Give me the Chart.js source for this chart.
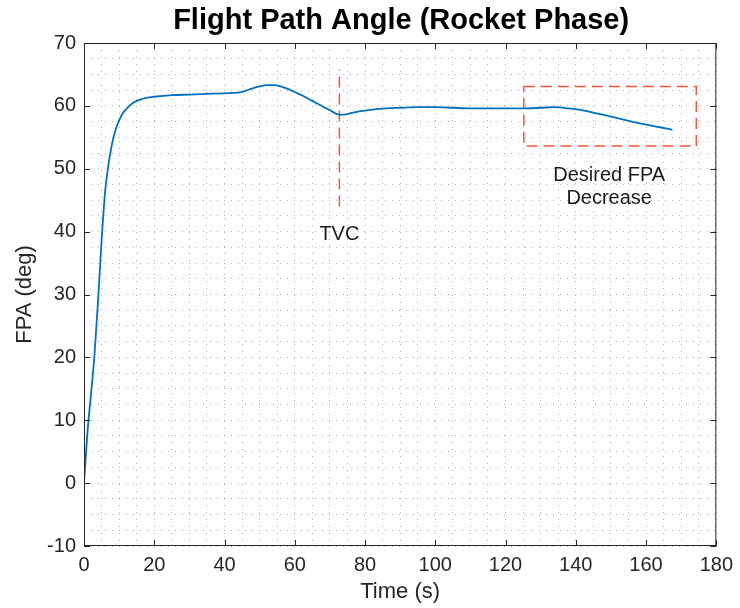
<!DOCTYPE html>
<html>
<head>
<meta charset="utf-8">
<script src="https://cdn.jsdelivr.net/npm/chart.js@4"></script>
<style>
  body { margin: 0; background: #fff; }
  #wrap { width: 740px; height: 608px; }
</style>
</head>
<body>
<div id="wrap"><canvas id="fpaChart" width="740" height="608"></canvas></div>
<script>
// data
const timeSec = [0, 0.6, 1, 2, 3, 4, 5, 6, 7, 8, 9, 10, 11, 12, 14, 16, 18, 20, 25, 30, 35, 40, 44, 46, 48, 50, 52, 54, 56, 58, 60, 62, 65, 68, 70, 72, 73, 75, 78, 82, 86, 90, 95, 100, 105, 110, 115, 120, 125, 130, 134, 138, 142, 146, 150, 155, 160, 164, 167.5];
const fpaDeg = [0, 5, 8.2, 14.2, 20.5, 29, 38.5, 46.3, 50.8, 54, 56.2, 57.7, 58.8, 59.5, 60.5, 61.0, 61.3, 61.45, 61.7, 61.8, 61.9, 62.0, 62.1, 62.4, 62.8, 63.1, 63.3, 63.3, 63.1, 62.7, 62.2, 61.7, 60.8, 59.9, 59.3, 58.7, 58.6, 58.7, 59.1, 59.4, 59.6, 59.7, 59.8, 59.8, 59.7, 59.6, 59.6, 59.6, 59.6, 59.7, 59.8, 59.6, 59.3, 58.8, 58.3, 57.6, 57.0, 56.6, 56.2];

const tvcLine = { t: [72.7, 72.7], v: [44, 65.8] };
const boxX = [125.2, 174.3, 174.3, 125.2, 125.2];
const boxY = [63.1, 63.1, 53.6, 53.6, 63.1];

const xTicks = [0, 20, 40, 60, 80, 100, 120, 140, 160, 180];
const yTicks = [-10, 0, 10, 20, 30, 40, 50, 60, 70];

const notes = [
    { t: 72.7, v: 39.6, text: "TVC" },
    { t: 149.5, v: 49.0, text: "Desired FPA" },
    { t: 149.5, v: 45.3, text: "Decrease" }
];

const red = "#f5533d";
const ink = "#262626";
const font = "'Liberation Sans', Arial, sans-serif";

// frame, inner ticks, title and text notes
const decor = {
    id: "decor",
    afterDatasetsDraw(chart) {
        const { ctx, chartArea: a, scales: { x, y } } = chart;
        ctx.save();
        ctx.strokeStyle = ink;
        ctx.lineWidth = 1;
        ctx.strokeRect(a.left + 0.5, a.top + 0.5, a.right - a.left - 1, a.bottom - a.top - 1);
        ctx.beginPath();
        xTicks.forEach(v => {
            const px = Math.round(x.getPixelForValue(v)) + 0.5;
            ctx.moveTo(px, a.bottom); ctx.lineTo(px, a.bottom - 6);
            ctx.moveTo(px, a.top); ctx.lineTo(px, a.top + 6);
        });
        yTicks.forEach(v => {
            const py = Math.round(y.getPixelForValue(v)) + 0.5;
            ctx.moveTo(a.left, py); ctx.lineTo(a.left + 6, py);
            ctx.moveTo(a.right, py); ctx.lineTo(a.right - 6, py);
        });
        ctx.stroke();

        ctx.fillStyle = "#1a1a1a";
        ctx.textAlign = "center";
        ctx.textBaseline = "middle";
        ctx.font = "20px " + font;
        notes.forEach(n => {
            ctx.fillText(n.text, x.getPixelForValue(n.t), y.getPixelForValue(n.v));
        });

        ctx.fillStyle = "#000";
        ctx.textBaseline = "alphabetic";
        ctx.font = "bold 29px " + font;
        ctx.fillText("Flight Path Angle (Rocket Phase)", (a.left + a.right) / 2 + 1, 29);
        ctx.restore();
    }
};

const dotted = { color: "rgba(0,0,0,0.3)", lineWidth: 1, drawTicks: false };

new Chart(document.getElementById("fpaChart").getContext("2d"), {
    type: "line",
    data: {
        datasets: [
            {
                data: timeSec.map((t, i) => ({ x: t, y: fpaDeg[i] })),
                borderColor: "#0072BD",
                borderWidth: 1.8,
                pointRadius: 0,
                cubicInterpolationMode: "monotone"
            },
            {
                data: tvcLine.t.map((t, i) => ({ x: t, y: tvcLine.v[i] })),
                borderColor: red,
                borderWidth: 1.5,
                borderDash: [11, 6],
                pointRadius: 0
            },
            {
                data: boxX.map((t, i) => ({ x: t, y: boxY[i] })),
                borderColor: red,
                borderWidth: 1.5,
                borderDash: [11, 6],
                pointRadius: 0,
                tension: 0
            }
        ]
    },
    options: {
        responsive: false,
        animation: false,
        layout: { padding: { top: 43, right: 20, left: 0, bottom: 0 } },
        plugins: { legend: { display: false }, tooltip: { enabled: false } },
        scales: {
            x: {
                type: "linear",
                min: 0, max: 180,
                afterFit: s => { s.height = 62; },
                ticks: {
                    stepSize: 5, autoSkip: false, maxRotation: 0, padding: 7,
                    color: ink,
                    font: { family: font, size: 20 },
                    callback: v => (v % 20 === 0 ? v : "")
                },
                grid: { ...dotted },
                border: { display: false, dash: [1, 6] },
                title: {
                    display: true, text: "Time (s)", color: ink, padding: { top: 0, bottom: 3 },
                    font: { family: font, size: 22 }
                }
            },
            y: {
                min: -10, max: 70,
                afterFit: s => { s.width = 84; },
                ticks: {
                    stepSize: 2.5, autoSkip: false, padding: 8,
                    color: ink,
                    font: { family: font, size: 20 },
                    callback: v => (v % 10 === 0 ? v : "")
                },
                grid: { ...dotted },
                border: { display: false, dash: [1, 6] },
                title: {
                    display: true, text: "FPA (deg)", color: ink, padding: { top: 12, bottom: 6 },
                    font: { family: font, size: 22 }
                }
            }
        }
    },
    plugins: [decor]
});
</script>
</body>
</html>
